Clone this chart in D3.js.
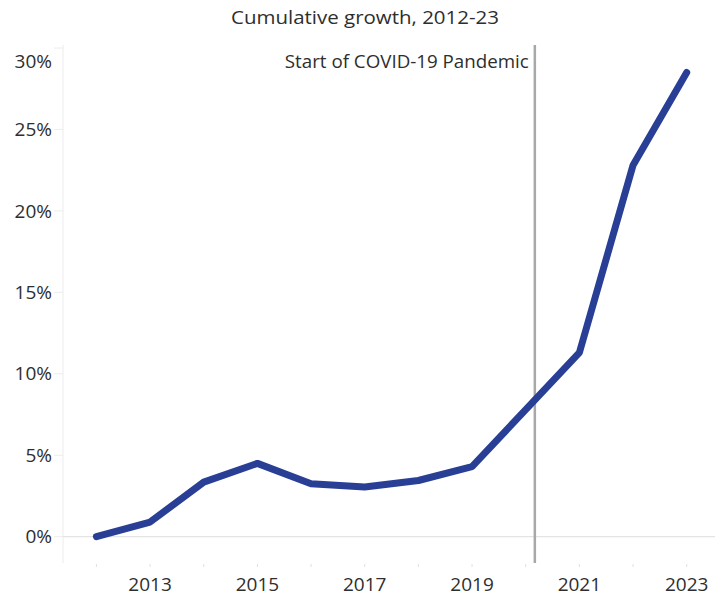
<!DOCTYPE html>
<html>
<head>
<meta charset="utf-8">
<script src="https://cdn.jsdelivr.net/npm/d3@7"></script>
<style>
  body { margin: 0; background: #fff; }
  text { font-family: "Open Sans", sans-serif; fill: #2e2e2e; }
</style>
</head>
<body>
<svg id="chart" width="722" height="597"></svg>
<script>
const years = [2012, 2013, 2014, 2015, 2016, 2017, 2018, 2019, 2020, 2021, 2022, 2023];
const growth = [0, 0.9, 3.35, 4.5, 3.25, 3.05, 3.45, 4.3, 7.8, 11.3, 22.8, 28.5];
const yTicks = [0, 5, 10, 15, 20, 25, 30];
const xLabels = [2013, 2015, 2017, 2019, 2021, 2023];
const covidStart = 2020.17;

const svg = d3.select('#chart');
const plotLeft = 63, plotRight = 715, plotTop = 45, plotBottom = 563;

const x = d3.scaleLinear().domain([2012, 2023]).range([96.4, 686.7]);
const y = d3.scaleLinear().domain([0, 30]).range([536.7, 48]);

// title
svg.append('text')
    .attr('x', 365).attr('y', 24)
    .attr('text-anchor', 'middle')
    .attr('textLength', 268)
    .attr('lengthAdjust', 'spacingAndGlyphs')
    .style('font-size', '19px')
    .text('Cumulative growth, 2012-23');

// axis frame
svg.append('line')
    .attr('x1', plotLeft).attr('x2', plotLeft)
    .attr('y1', plotTop).attr('y2', plotBottom)
    .attr('stroke', '#ececec');

svg.append('line')
    .attr('x1', plotLeft).attr('x2', plotRight)
    .attr('y1', y(0)).attr('y2', y(0))
    .attr('stroke', '#e4e4e4').attr('stroke-width', 1.2);

// y ticks and labels
svg.selectAll('.ytick')
    .data(yTicks)
    .enter().append('line')
    .attr('x1', plotLeft - 9).attr('x2', plotLeft)
    .attr('y1', d => y(d)).attr('y2', d => y(d))
    .attr('stroke', '#ececec');

svg.selectAll('.ylabel')
    .data(yTicks)
    .enter().append('text')
    .attr('x', 52)
    .attr('y', d => d === 30 ? 61 : y(d))
    .attr('dy', '0.35em')
    .attr('text-anchor', 'end')
    .style('font-size', '19px')
    .text(d => d + '%');

// x ticks and labels
svg.selectAll('.xtick')
    .data(years)
    .enter().append('line')
    .attr('x1', d => x(d)).attr('x2', d => x(d))
    .attr('y1', plotBottom + 1).attr('y2', plotBottom + 4)
    .attr('stroke', '#e0e0e0');

svg.selectAll('.xlabel')
    .data(xLabels)
    .enter().append('text')
    .attr('x', d => x(d))
    .attr('y', 584)
    .attr('dy', '0.35em')
    .attr('text-anchor', 'middle')
    .style('font-size', '19px')
    .text(d => d);

// covid reference line
svg.append('line')
    .attr('x1', x(covidStart)).attr('x2', x(covidStart))
    .attr('y1', plotTop).attr('y2', plotBottom)
    .attr('stroke', '#a8a8a8').attr('stroke-width', 2.5);

svg.append('text')
    .attr('x', x(covidStart) - 6)
    .attr('y', 61)
    .attr('dy', '0.35em')
    .attr('text-anchor', 'end')
    .attr('textLength', 244)
    .attr('lengthAdjust', 'spacingAndGlyphs')
    .style('font-size', '19px')
    .text('Start of COVID-19 Pandemic');

// the growth line
const line = d3.line()
    .x((d, i) => x(years[i]))
    .y(d => y(d));

svg.append('path')
    .datum(growth)
    .attr('d', line)
    .attr('fill', 'none')
    .attr('stroke', '#283f95')
    .attr('stroke-width', 7)
    .attr('stroke-linejoin', 'round')
    .attr('stroke-linecap', 'round');
</script>
</body>
</html>
